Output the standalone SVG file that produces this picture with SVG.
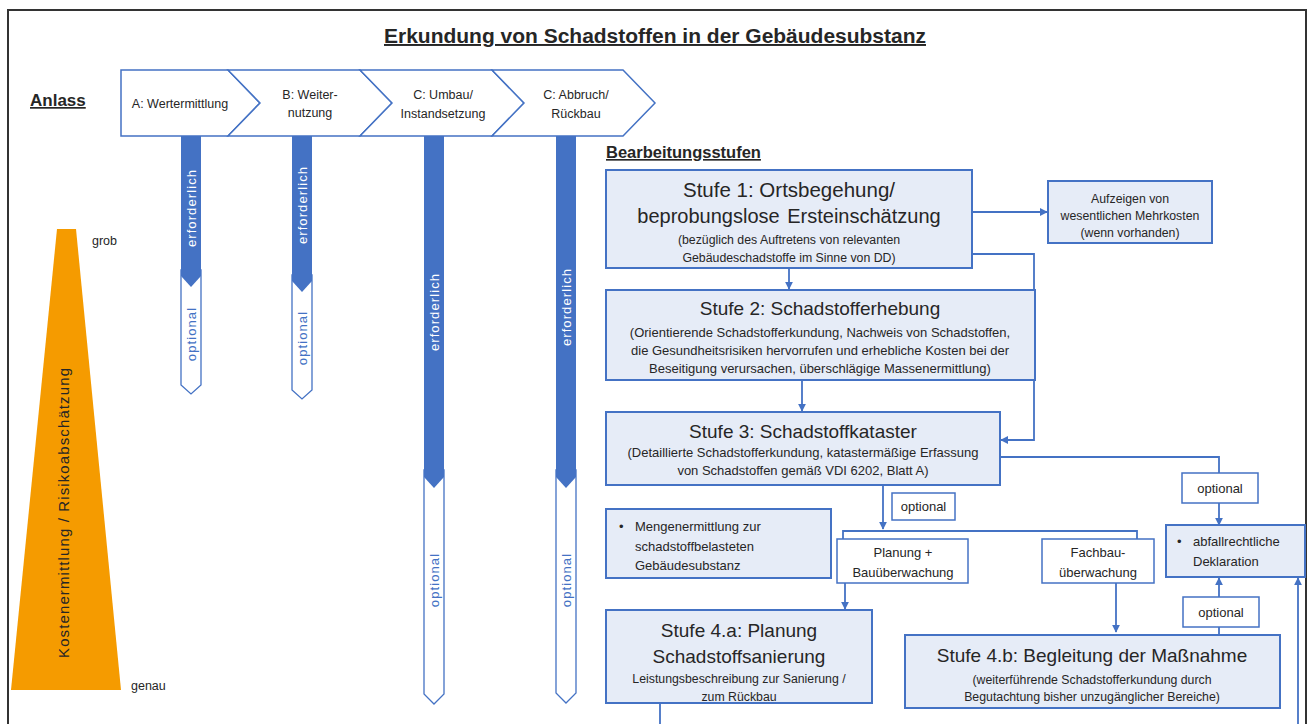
<svg xmlns="http://www.w3.org/2000/svg" width="1311" height="724" viewBox="0 0 1311 724">
<defs>
<style>
text{font-family:"Liberation Sans",Arial,sans-serif;fill:#262626}
.box{fill:#E6ECF7;stroke:#4472C4;stroke-width:2}
.wbox{fill:#fff;stroke:#4472C4;stroke-width:1.5}
.chev{fill:#fff;stroke:#4472C4;stroke-width:1.5}
.dark{fill:#4472C4}
.out{fill:#fff;stroke:#4472C4;stroke-width:1.3}
.con{fill:none;stroke:#4472C4;stroke-width:1.8}
.t19{font-size:19px}
.t12{font-size:12.3px}
.t13{font-size:13px}
.cl{font-size:12.5px}
.hd{font-weight:bold;text-decoration:underline}
.vw{font-size:13px;fill:#fff;letter-spacing:1.1px}
.vb{font-size:13px;fill:#4472C4;letter-spacing:1.1px}
</style>
<marker id="ah" viewBox="0 0 10 10" refX="9" refY="5" markerWidth="8" markerHeight="8" markerUnits="userSpaceOnUse" orient="auto">
<path d="M0,0 L10,5 L0,10 z" fill="#4472C4"/>
</marker>
</defs>
<rect x="0" y="0" width="1311" height="724" fill="#fff"/>
<path d="M8,730 V10 H1306 V730" fill="none" stroke="#333" stroke-width="2"/>

<text x="655" y="43" text-anchor="middle" class="hd" font-size="19.5" textLength="542" lengthAdjust="spacingAndGlyphs">Erkundung von Schadstoffen in der Gebäudesubstanz</text>

<g id="anlass">
<text x="30" y="106" class="hd" font-size="17">Anlass</text>
</g>

<g id="chevrons">
<path class="chev" d="M121,70 H228 L260,103 L228,136 H121 Z"/>
<path class="chev" d="M228,70 H360 L392,103 L360,136 H228 L260,103 Z"/>
<path class="chev" d="M360,70 H492 L524,103 L492,136 H360 L392,103 Z"/>
<path class="chev" d="M492,70 H623 L655,103 L623,136 H492 L524,103 Z"/>
<text class="cl" x="180" y="108" text-anchor="middle">A: Wertermittlung</text>
<text class="cl" x="310" y="99" text-anchor="middle">B: Weiter-</text>
<text class="cl" x="310" y="117" text-anchor="middle">nutzung</text>
<text class="cl" x="443" y="99" text-anchor="middle">C: Umbau/</text>
<text class="cl" x="443" y="118" text-anchor="middle">Instandsetzung</text>
<text class="cl" x="576" y="99" text-anchor="middle">C: Abbruch/</text>
<text class="cl" x="576" y="118" text-anchor="middle">Rückbau</text>
</g>

<g id="bar-a">
<path class="out" d="M181,270 H201 V385 L191,394 L181,385 Z"/>
<path class="dark" d="M181,136 H201 V276 L191,287 L181,276 Z"/>
<text class="vw" transform="translate(196,208) rotate(-90)" text-anchor="middle">erforderlich</text>
<text class="vb" transform="translate(196,334) rotate(-90)" text-anchor="middle">optional</text>
</g>
<g id="bar-b">
<path class="out" d="M292,275 H312 V390 L302,399 L292,390 Z"/>
<path class="dark" d="M292,136 H312 V281 L302,292 L292,281 Z"/>
<text class="vw" transform="translate(307,205) rotate(-90)" text-anchor="middle">erforderlich</text>
<text class="vb" transform="translate(307,338) rotate(-90)" text-anchor="middle">optional</text>
</g>
<g id="bar-c1">
<path class="out" d="M424,470 H444 V694 L434,704 L424,694 Z"/>
<path class="dark" d="M424,136 H444 V477 L434,488 L424,477 Z"/>
<text class="vw" transform="translate(439,312) rotate(-90)" text-anchor="middle">erforderlich</text>
<text class="vb" transform="translate(439,580) rotate(-90)" text-anchor="middle">optional</text>
</g>
<g id="bar-c2">
<path class="out" d="M556,470 H576 V693 L566,703 L556,693 Z"/>
<path class="dark" d="M556,136 H576 V477 L566,488 L556,477 Z"/>
<text class="vw" transform="translate(571,307) rotate(-90)" text-anchor="middle">erforderlich</text>
<text class="vb" transform="translate(571,580) rotate(-90)" text-anchor="middle">optional</text>
</g>

<g id="kosten">
<path d="M57,229 H76 L121,690 H11 Z" fill="#F59B00"/>
<text transform="translate(69,513) rotate(-90)" text-anchor="middle" font-size="15" textLength="290" lengthAdjust="spacing">Kostenermittlung / Risikoabschätzung</text>
<text x="92" y="245" font-size="12.5">grob</text>
<text x="131" y="690" font-size="12.5">genau</text>
</g>

<g id="bearbeitungsstufen">
<text x="606" y="158" class="hd" font-size="16.5">Bearbeitungsstufen</text>
</g>

<g id="connectors">
<path class="con" d="M972,212 H1047" marker-end="url(#ah)"/>
<path class="con" d="M789,268 V289" marker-end="url(#ah)"/>
<path class="con" d="M972,254 H1034 V440 H1001" marker-end="url(#ah)"/>
<path class="con" d="M802,380 V411" marker-end="url(#ah)"/>
<path class="con" d="M883,485 V529" marker-end="url(#ah)"/>
<path class="con" d="M843,539 V531 H1137 V539"/>
<path class="con" d="M1000,457 H1219 V473"/>
<path class="con" d="M1219,503 V525" marker-end="url(#ah)"/>
<path class="con" d="M845,583 V609" marker-end="url(#ah)"/>
<path class="con" d="M1116,583 V632" marker-end="url(#ah)"/>
<path class="con" d="M1219,637 V626"/>
<path class="con" d="M1219,597 V578" marker-end="url(#ah)"/>
<path class="con" d="M1298,724 V578" marker-end="url(#ah)"/>
<path class="con" d="M660,703 V724"/>
</g>

<g id="stufe1">
<rect class="box" x="606" y="170" width="366" height="98"/>
<text x="789" y="197" text-anchor="middle" font-size="20.5">Stufe 1: Ortsbegehung/</text>
<text x="789" y="223" text-anchor="middle" font-size="20" word-spacing="2">beprobungslose Ersteinschätzung</text>
<text class="t12" x="789" y="244" text-anchor="middle">(bezüglich des Auftretens von relevanten</text>
<text class="t12" x="789" y="262" text-anchor="middle">Gebäudeschadstoffe im Sinne von DD)</text>
</g>

<g id="aufzeigen">
<rect class="box" x="1048" y="181" width="164" height="62"/>
<text class="t12" x="1130" y="203" text-anchor="middle">Aufzeigen von</text>
<text class="t12" x="1130" y="220" text-anchor="middle">wesentlichen Mehrkosten</text>
<text class="t12" x="1130" y="237" text-anchor="middle">(wenn vorhanden)</text>
</g>

<g id="stufe2">
<rect class="box" x="606" y="290" width="429" height="90"/>
<text class="t19" x="820" y="315" text-anchor="middle">Stufe 2: Schadstofferhebung</text>
<text class="t13" x="820" y="337" text-anchor="middle">(Orientierende Schadstofferkundung, Nachweis von Schadstoffen,</text>
<text class="t13" x="820" y="355" text-anchor="middle">die Gesundheitsrisiken hervorrufen und erhebliche Kosten bei der</text>
<text class="t13" x="820" y="373" text-anchor="middle">Beseitigung verursachen, überschlägige Massenermittlung)</text>
</g>

<g id="stufe3">
<rect class="box" x="606" y="412" width="394" height="73"/>
<text class="t19" x="803" y="438" text-anchor="middle">Stufe 3: Schadstoffkataster</text>
<text class="t13" x="803" y="457" text-anchor="middle">(Detaillierte Schadstofferkundung, katastermäßige Erfassung</text>
<text class="t13" x="803" y="475" text-anchor="middle">von Schadstoffen gemäß VDI 6202, Blatt A)</text>
</g>

<g id="optional1">
<rect class="wbox" x="892" y="493" width="63" height="27"/>
<text class="t13" x="923.5" y="511" text-anchor="middle">optional</text>
</g>

<g id="menge">
<rect class="box" x="606" y="509" width="225" height="69" stroke-width="3"/>
<text class="t13" x="619" y="531">•</text>
<text class="t13" x="635" y="531">Mengenermittlung zur</text>
<text class="t13" x="635" y="551">schadstoffbelasteten</text>
<text class="t13" x="635" y="570">Gebäudesubstanz</text>
</g>

<g id="planung">
<rect class="wbox" x="837" y="539" width="131" height="44"/>
<text class="t13" x="903" y="557" text-anchor="middle">Planung +</text>
<text class="t13" x="903" y="577" text-anchor="middle">Bauüberwachung</text>
</g>

<g id="fachbau">
<rect class="wbox" x="1042" y="539" width="112" height="44"/>
<text class="t13" x="1098" y="557" text-anchor="middle">Fachbau-</text>
<text class="t13" x="1098" y="577" text-anchor="middle">überwachung</text>
</g>

<g id="optional2">
<rect class="wbox" x="1182" y="473" width="76" height="30"/>
<text class="t13" x="1220" y="493" text-anchor="middle">optional</text>
</g>

<g id="abfall">
<rect class="box" x="1166" y="525" width="139" height="52"/>
<text class="t13" x="1177" y="546">•</text>
<text class="t13" x="1193" y="546">abfallrechtliche</text>
<text class="t13" x="1193" y="566">Deklaration</text>
</g>

<g id="optional3">
<rect class="wbox" x="1183" y="597" width="76" height="30"/>
<text class="t13" x="1221" y="617" text-anchor="middle">optional</text>
</g>

<g id="stufe4a">
<rect class="box" x="606" y="610" width="266" height="93"/>
<text class="t19" x="739" y="637" text-anchor="middle">Stufe 4.a: Planung</text>
<text class="t19" x="739" y="663" text-anchor="middle">Schadstoffsanierung</text>
<text class="t12" x="739" y="683" text-anchor="middle">Leistungsbeschreibung zur Sanierung /</text>
<text class="t12" x="739" y="701" text-anchor="middle">zum Rückbau</text>
</g>

<g id="stufe4b">
<rect class="box" x="905" y="635" width="375" height="73"/>
<text class="t19" x="1092" y="662" text-anchor="middle">Stufe 4.b: Begleitung der Maßnahme</text>
<text class="t12" x="1092" y="684" text-anchor="middle">(weiterführende Schadstofferkundung durch</text>
<text class="t12" x="1092" y="701" text-anchor="middle">Begutachtung bisher unzugänglicher Bereiche)</text>
</g>
</svg>
